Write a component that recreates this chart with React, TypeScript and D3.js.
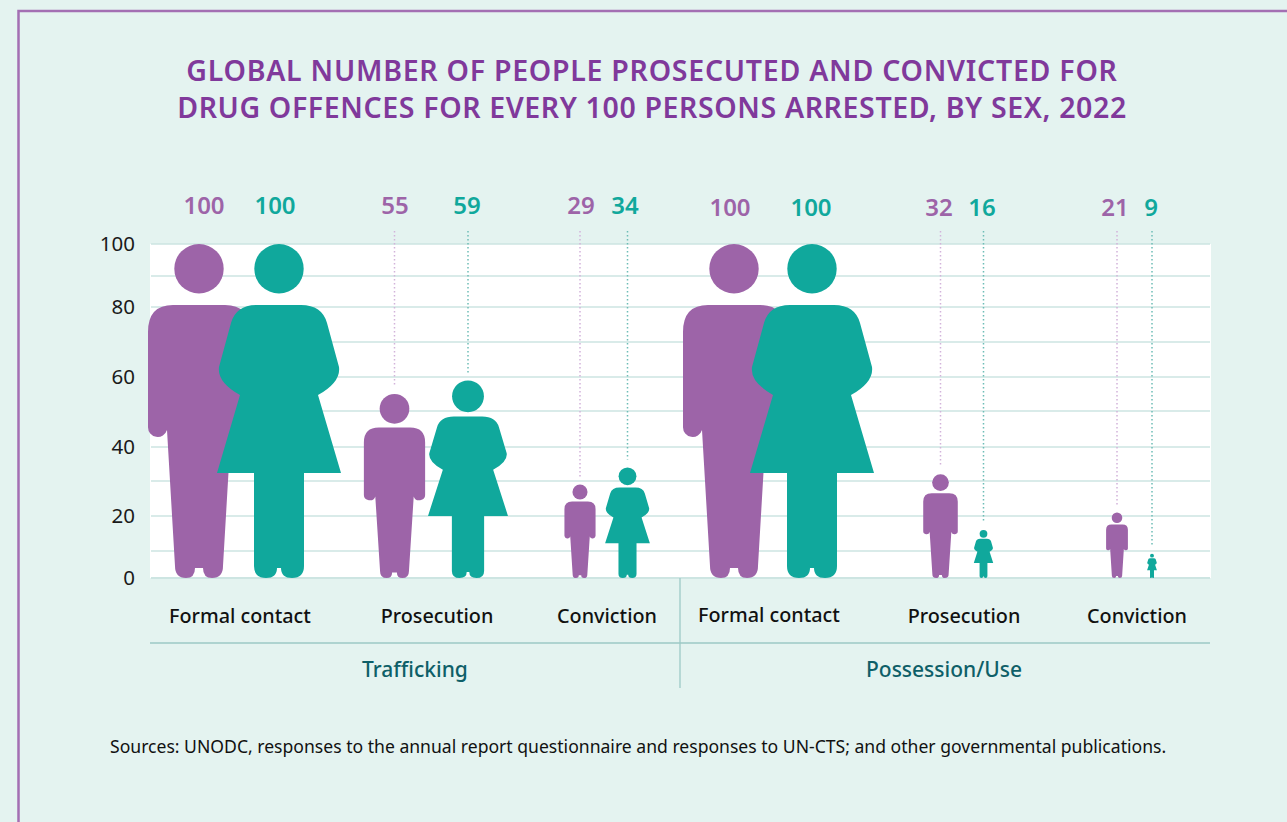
import React from "react";
import * as d3 from "d3";

const title1 = "GLOBAL NUMBER OF PEOPLE PROSECUTED AND CONVICTED FOR";
const title2 = "DRUG OFFENCES FOR EVERY 100 PERSONS ARRESTED, BY SEX, 2022";
const slots = ["tf", "tp", "tc", "pf", "pp", "pc"];
const categories = ["Formal contact", "Prosecution", "Conviction", "Formal contact", "Prosecution", "Conviction"];
const maleValues = [100, 55, 29, 100, 32, 21];
const femaleValues = [100, 59, 34, 100, 16, 9];
const groups = ["Trafficking", "Possession/Use"];
const yTicks = [0, 20, 40, 60, 80, 100];
const gridTicks = [0, 10, 20, 30, 40, 50, 60, 70, 80, 90, 100];
const source = "Sources: UNODC, responses to the annual report questionnaire and responses to UN-CTS; and other governmental publications.";

const FONT = "'Noto Sans', sans-serif";
const PURPLE = "#9d64a8";
const TEAL = "#10a89c";
const y = d3.scaleLinear().domain(gridTicks).range([578, 551, 516, 481, 447, 411, 377, 342, 307, 276, 244]);
const maleX = d3.scaleOrdinal<string, number>().domain(slots).range([199, 394.5, 580, 734, 940.5, 1117]);
const femaleX = d3.scaleOrdinal<string, number>().domain(slots).range([279, 468, 627.5, 812, 983.5, 1152]);
const maleLabelX = d3.scaleOrdinal<string, number>().domain(slots).range([204, 395, 581, 730, 939, 1115]);
const femaleLabelX = d3.scaleOrdinal<string, number>().domain(slots).range([275, 467, 625, 811, 982, 1151]);
const catX = d3.scaleOrdinal<string, number>().domain(slots).range([240, 437, 607, 769, 964, 1137]);

const REF = 334;
const manBody = "M-26,61 L26,61 Q51,61 51,88 L51,183 A9.7,9.7 0 0 1 32,186 L24,322 Q24,334 13,334 Q4,334 4,324 L-4,324 Q-4,334 -13,334 Q-24,334 -24,322 L-32,186 A9.7,9.7 0 0 1 -51,183 L-51,88 Q-51,61 -26,61 Z";
const womanBody = "M-22,61 L22,61 Q43,61 48,79 L60,123 Q62,138 39,151 L62,229 L25,229 L25,322 Q25,334 13,334 Q2,334 2,324 L-2,324 Q-2,334 -13,334 Q-25,334 -25,322 L-25,229 L-62,229 L-39,151 Q-62,138 -60,123 L-48,79 Q-43,61 -22,61 Z";

function Figure({ cx, value, d, fill }: { cx: number; value: number; d: string; fill: string }) {
  const top = y(value);
  const k = (578 - top) / REF;
  const wide = value >= 100 ? 1 : 1.09;
  const r = 24.7 * k * wide;
  return (
    <g>
      <circle cx={cx} cy={top + r} r={r} fill={fill} />
      <path d={d} transform={`translate(${cx},${top}) scale(${k * wide},${k})`} fill={fill} />
    </g>
  );
}

function Leader({ x, value, color }: { x: number; value: number; color: string }) {
  if (value >= 100) return null;
  return <line x1={x} x2={x} y1={231} y2={y(value) - 8} stroke={color} strokeWidth={1.5} strokeDasharray="1.6 2.4" />;
}

export default function App() {
  return (
    <svg width={1287} height={822} style={{ position: "absolute", left: 0, top: 0, fontFamily: FONT }}>
      <rect width={1287} height={822} fill="#e4f3f0" />
      <path d="M1287,11 L18.5,11 L18.5,822" fill="none" stroke="#a36fb3" strokeWidth={2.5} />
      <g fill="#80399b" fontSize={28.5} fontWeight={600} textAnchor="middle">
        <text x={652} y={81} letterSpacing={0.74}>{title1}</text>
        <text x={652} y={118} letterSpacing={0.62}>{title2}</text>
      </g>

      <rect x={150} y={244} width={1061} height={334} fill="#ffffff" />
      {gridTicks.map((t) => (
        <line key={t} x1={151} x2={1210} y1={y(t)} y2={y(t)} stroke="#cde5e2" strokeWidth={t === 0 ? 2 : 1.3} />
      ))}
      {yTicks.map((t) => (
        <text key={t} x={135} y={y(t) + 7} fontSize={20.5} fill="#1a1a1a" textAnchor="end">{t}</text>
      ))}

      {slots.map((s, i) => (
        <g key={s}>
          <Leader x={maleX(s)} value={maleValues[i]} color="#d2b3da" />
          <Leader x={femaleX(s)} value={femaleValues[i]} color="#6dbdb6" />
        </g>
      ))}
      {slots.map((s, i) => (
        <g key={s}>
          <Figure cx={maleX(s)} value={maleValues[i]} d={manBody} fill={PURPLE} />
          <Figure cx={femaleX(s)} value={femaleValues[i]} d={womanBody} fill={TEAL} />
        </g>
      ))}
      {slots.map((s, i) => (
        <g key={s} fontSize={24} fontWeight={600} textAnchor="middle">
          <text x={maleLabelX(s)} y={i >= 3 ? 216 : 214} fill={PURPLE}>{maleValues[i]}</text>
          <text x={femaleLabelX(s)} y={i >= 3 ? 216 : 214} fill={TEAL}>{femaleValues[i]}</text>
        </g>
      ))}
      {slots.map((s, i) => (
        <text key={s} x={catX(s)} y={i === 3 ? 622 : 623} fontSize={19.8} fontWeight={500} fill="#111" textAnchor="middle">{categories[i]}</text>
      ))}
      <line x1={150} x2={1210} y1={643} y2={643} stroke="#9cc9c6" strokeWidth={1.3} />
      <line x1={680} x2={680} y1={578} y2={688} stroke="#9cc9c6" strokeWidth={1.3} />
      <g fontSize={21} fontWeight={500} fill="#0e5f68" textAnchor="middle">
        <text x={415} y={677}>{groups[0]}</text>
        <text x={944} y={677}>{groups[1]}</text>
      </g>
      <text x={110} y={753} fontSize={17.58} fill="#111">{source}</text>
    </svg>
  );
}
